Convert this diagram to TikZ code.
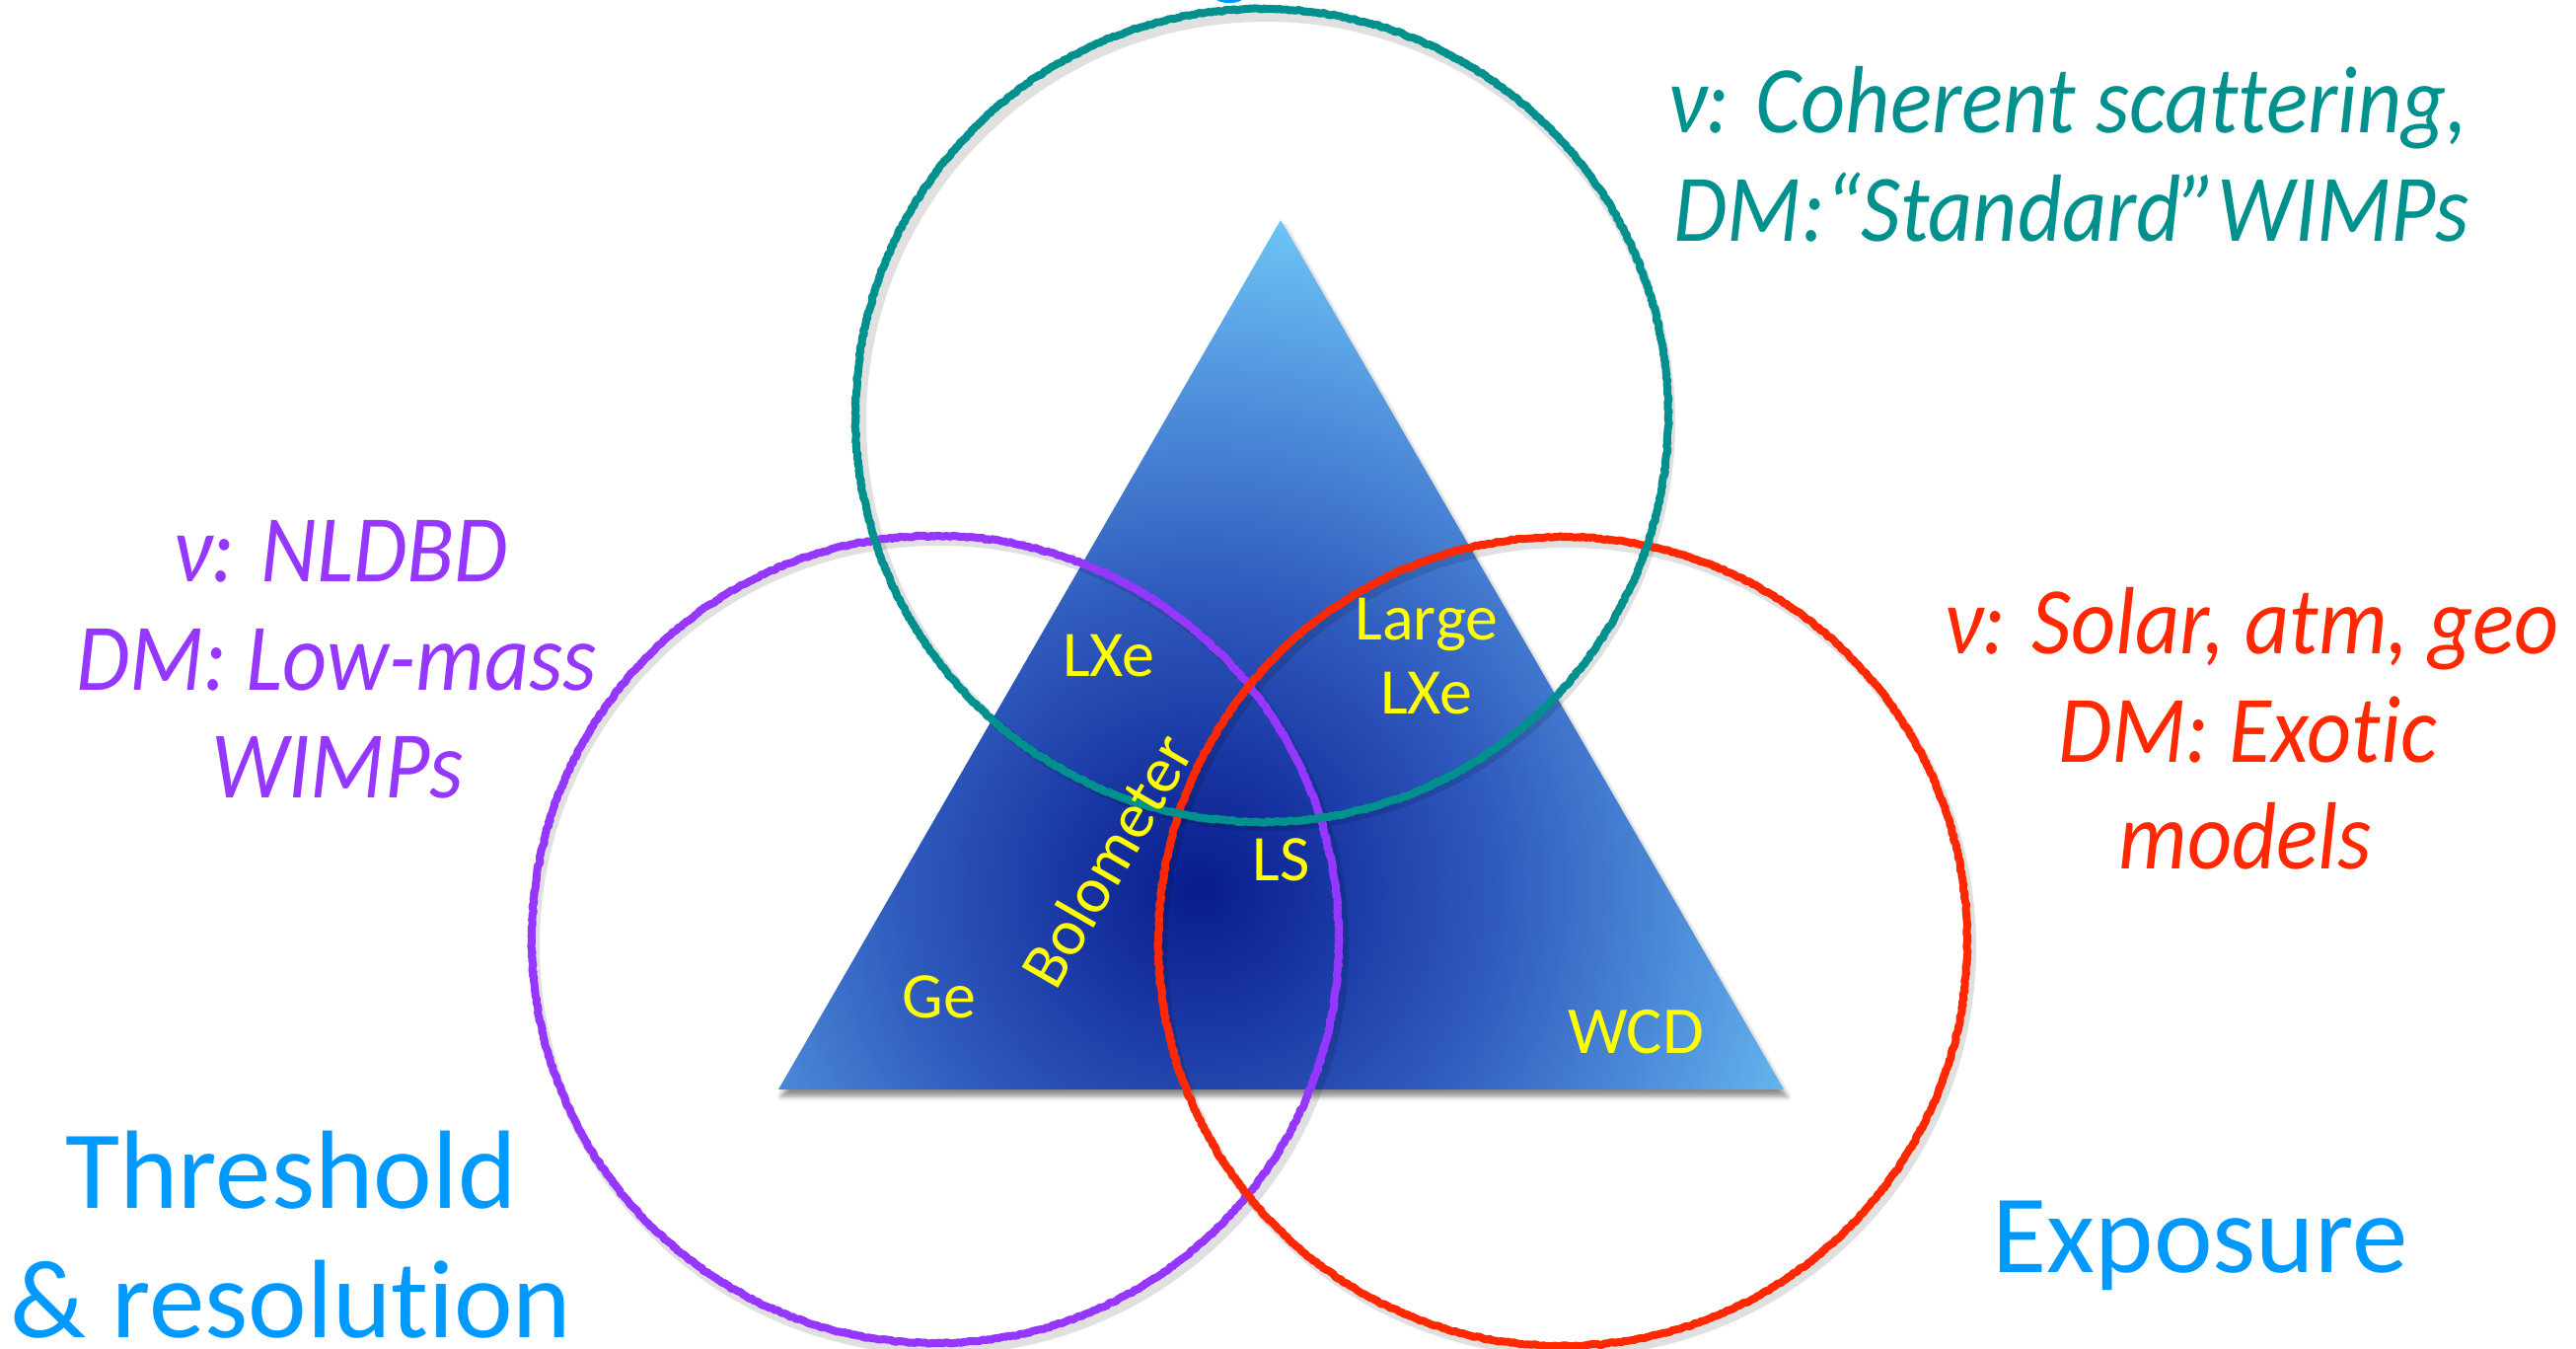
\documentclass[tikz,border=0pt]{standalone}
\usepackage{fontspec}
\setmainfont{Carlito}[Ligatures={NoCommon,NoContextual}]
\usetikzlibrary{shadows.blur,decorations.pathmorphing}

\definecolor{tealc}{RGB}{0,145,143}
\definecolor{purplec}{RGB}{150,55,255}
\definecolor{redc}{RGB}{255,40,0}
\definecolor{bluec}{RGB}{0,153,255}
\definecolor{yel}{RGB}{255,255,0}
\definecolor{triA}{RGB}{8,28,140}
\definecolor{triB}{RGB}{22,50,160}
\definecolor{triC}{RGB}{48,92,190}
\definecolor{triD}{RGB}{80,145,220}
\definecolor{triE}{RGB}{112,202,248}

% radial blend for the triangle: dark core, sky-blue rim
\pgfdeclareradialshading{trishade}{\pgfpoint{0bp}{0bp}}{%
  color(0bp)=(triA); color(4bp)=(triB); color(11bp)=(triC);
  color(18bp)=(triD); color(25bp)=(triE); color(50bp)=(triE)}

% slightly taller letterforms
\newcommand\tallt[1]{\scalebox{1}[1.1]{#1}}

\tikzset{
  ring/.style={line width=8pt, line join=round,
    decorate, decoration={random steps, segment length=2.5pt, amplitude=0.8pt}},
  ringshade/.style={line width=10pt, draw=black, opacity=0.12},
  note/.style={inner sep=0pt, anchor=base, font=\fontsize{88}{100}\selectfont\itshape},
  axis/.style={inner sep=0pt, anchor=base, text=bluec, font=\fontsize{113}{120}\selectfont},
  det/.style={inner sep=0pt, anchor=base, text=yel, font=\fontsize{66}{75}\selectfont},
}

\begin{document}
\begin{tikzpicture}[x=1pt,y=-1pt]
\useasboundingbox (0,0) rectangle (2611,1367);
\clip (0,0) rectangle (2611,1367);

% detector triangle
\coordinate (apex) at (1298,223);
\coordinate (bl) at (789,1104);
\coordinate (br) at (1808,1104);
\path[blur shadow={shadow xshift=3pt, shadow yshift=-7pt, shadow opacity=45,
  shadow blur radius=5pt}] (apex) -- (bl) -- (br) -- cycle;
\begin{scope}
  \clip (apex) -- (bl) -- (br) -- cycle;
  \shade[shading=trishade] (1216,900) circle (700);
\end{scope}

% three sensitivity circles
\coordinate (cT) at (1279,421);
\coordinate (cP) at (948,952);
\coordinate (cR) at (1584,954);
\foreach \c in {cP,cR,cT}
  \draw[ringshade] ([shift={(4,6)}]\c) circle (410);
\draw[ring, draw=purplec] (cP) circle (409);
\draw[ring, draw=redc] (cR) circle (410);
\draw[ring, draw=tealc] (cT) circle (412);

% heading descender at the top edge
\fill[bluec] (1246,-3) ellipse (15 and 6);

% physics labels
\node[note, text=tealc] (t1) at (2096,135) {\tallt{ν: Coherent scattering,}};
\node[note, text=tealc] (t2) at (2100,245) {\tallt{DM:“Standard”WIMPs}};
\node[note, text=purplec] (p1) at (345,589) {\tallt{ν: NLDBD}};
\node[note, text=purplec] (p2) at (341,699) {\tallt{DM: Low-mass}};
\node[note, text=purplec] (p3) at (342,808) {\tallt{WIMPs}};
\node[note, text=redc] (r1) at (2282,662) {\tallt{ν: Solar, atm, geo}};
\node[note, text=redc] (r2) at (2278,772) {\tallt{DM: Exotic}};
\node[note, text=redc] (r3) at (2276,880) {\tallt{models}};

% axis labels
\node[axis] (a1) at (295,1224) {Threshold};
\node[axis] (a2) at (295,1355) {\& resolution};
\node[axis] (a3) at (2230,1289) {Exposure};

% detector technologies
\node[det] (lxe) at (1124,685) {LXe};
\node[det] (large) at (1446,648) {Large};
\node[det] (lxe2) at (1446,723) {LXe};
\node[det] (ls) at (1299,892) {LS};
\node[det] (ge) at (952,1031) {Ge};
\node[det, font=\fontsize{68}{75}\selectfont] (wcd) at (1658,1067) {WCD};
\node[det, anchor=center, rotate=60] (bolo) at (1122,872) {Bolometer};
\end{tikzpicture}
\end{document}
